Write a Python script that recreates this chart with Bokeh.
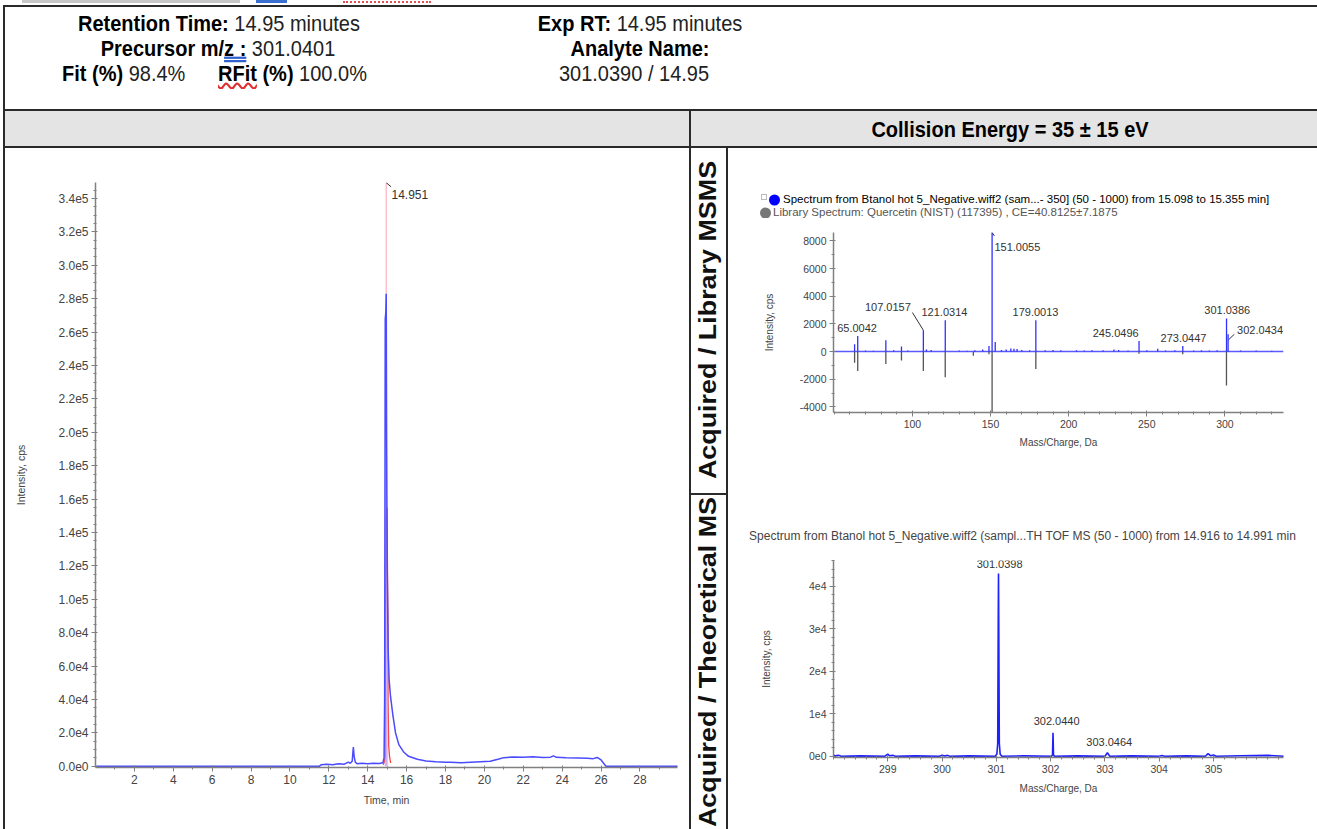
import numpy as np
from bokeh.plotting import figure
from bokeh.layouts import row, column
from bokeh.models import Div, Label, FixedTicker, Range1d
from bokeh.embed import file_html
from bokeh.resources import INLINE

FONT = "Liberation Sans"

# ---------------- data ----------------
# chromatogram (blue XIC)
chrom_time = [0.0, 11.5, 11.6, 11.9, 12.2, 12.5, 12.8, 13.0, 13.1, 13.2, 13.26, 13.3, 13.36, 13.45,
              13.7, 14.0, 14.3, 14.6, 14.78, 14.84, 14.87, 14.9, 14.93, 14.951, 14.97, 15.0, 15.05,
              15.1, 15.17, 15.3, 15.43, 15.6, 15.86, 16.1, 16.55, 17.0, 17.5, 18.0, 18.25, 18.8,
              19.3, 19.8, 20.3, 20.7, 21.0, 21.5, 22.0, 22.5, 23.0, 23.4, 23.55, 23.7, 24.2, 24.8,
              25.3, 25.6, 25.8, 26.0, 26.25, 30.0]
chrom_int = [0, 0, 900, 1200, 900, 1500, 1300, 2500, 1800, 3000, 11500, 6000, 2500, 1500,
             1800, 1500, 1900, 1700, 2200, 5000, 40000, 268000, 272000, 283000, 200000, 120000, 70000,
             52000, 42000, 30000, 20000, 13000, 8400, 6000, 4200, 3200, 2700, 2400, 2400, 2200,
             2500, 2800, 3000, 4200, 5200, 5600, 5400, 5700, 5300, 5500, 6300, 5400, 5200, 5000,
             4800, 4600, 5300, 3800, 0, 0]
# red overlay trace
red_time = [14.80, 14.86, 14.90, 14.91, 14.915, 14.95, 14.99, 15.0, 15.04, 15.045, 15.08, 15.12, 15.18]
red_int = [1000, 3000, 6000, 84000, 96000, 150000, 155000, 140000, 85000, 40000, 12000, 6000, 2000]
apex_time = 14.951
apex_label = "14.951"
chrom_xticks = [2, 4, 6, 8, 10, 12, 14, 16, 18, 20, 22, 24, 26, 28]
chrom_yticks = [i * 20000 for i in range(18)]
peak_window = [14.87, 15.05]

# MS/MS acquired (blue, up) and library (grey, down)
msms_mz = [63.0, 65.0042, 70, 75, 83.0, 88, 93.0, 97, 107.0157, 109, 112, 121.0314, 130, 135, 140, 145,
           149.0, 151.0055, 153.0, 157, 160, 163, 165, 167, 170, 175, 179.0013, 185, 190, 195, 205,
           210, 215, 222, 229, 232, 238, 245.0496, 250, 257, 262, 268, 273.0447, 280, 285, 290, 295,
           301.0386, 302.0434, 310, 320, 330]
msms_int = [530, 1130, 80, 60, 820, 100, 360, 80, 1540, 150, 120, 2265, 80, 60, 100, 150,
            410, 8600, 700, 120, 150, 220, 200, 180, 120, 100, 2265, 100, 120, 90, 100,
            80, 100, 90, 150, 120, 80, 770, 100, 200, 80, 100, 410, 80, 100, 80, 100,
            2385, 1250, 80, 70, 60]
lib_mz = [63.0, 65.0, 83.0, 93.0, 107.0, 121.0, 139.0, 149.0, 151.0, 179.0, 245.0, 273.0, 301.0]
lib_int = [-800, -1400, -900, -650, -1400, -1850, -300, -200, -4400, -1250, -150, -200, -2450]
msms_labels = ["65.0042", "107.0157", "121.0314", "151.0055", "179.0013", "245.0496", "273.0447",
               "301.0386", "302.0434"]
msms_xticks = [100, 150, 200, 250, 300]
msms_yticks = [-4000, -2000, 0, 2000, 4000, 6000, 8000]
msms_legend = ["Spectrum from Btanol hot 5_Negative.wiff2 (sam...- 350] (50 - 1000) from 15.098 to 15.355 min]",
               "Library Spectrum: Quercetin (NIST) (117395) , CE=40.8125±7.1875"]

# full-scan MS (profile)
ms_mz = [298.0, 298.03, 298.06, 298.1, 298.14, 298.5, 298.95, 299.0, 299.03, 299.1, 299.14, 299.5,
         299.95, 300.0, 300.05, 300.1, 300.14, 300.5, 300.98, 301.01, 301.025, 301.035, 301.0398,
         301.045, 301.055, 301.07, 301.1, 301.5, 302.02, 302.035, 302.044, 302.053, 302.07, 302.5,
         303.0, 303.046, 303.09, 303.5, 304.0, 304.05, 304.1, 304.5, 304.85, 304.9, 304.95, 305.0,
         305.05, 305.5, 306.0, 306.3]
ms_int = [300, 0, 150, 200, 0, 80, 0, 500, 100, 200, 0, 80,
          0, 250, 50, 200, 0, 80, 0, 500, 3000, 32000, 43000,
          30000, 3000, 500, 0, 80, 0, 400, 5500, 300, 0, 80,
          0, 800, 0, 80, 0, 150, 0, 80, 0, 600, 100, 300,
          0, 100, 200, 0]
ms_labels = ["301.0398", "302.0440", "303.0464"]
ms_xticks = [299, 300, 301, 302, 303, 304, 305]
ms_yticks = [0, 10000, 20000, 30000, 40000]
ms_ytick_labels = ["0e0", "1e4", "2e4", "3e4", "4e4"]
ms_title = "Spectrum from Btanol hot 5_Negative.wiff2 (sampl...TH TOF MS (50 - 1000) from 14.916 to 14.991 min"


def sci1(v):
    if v == 0:
        return "0.0e0"
    e = int(np.floor(np.log10(abs(v))))
    return f"{v / 10 ** e:.1f}e{e}"


def style_axes(p, fs, lab_fs):
    for ax in p.axis:
        ax.axis_line_color = "#808080"
        ax.axis_line_width = 1.5
        ax.major_tick_line_color = "#808080"
        ax.minor_tick_line_color = "#808080"
        ax.major_tick_out = 4
        ax.major_tick_in = 2
        ax.minor_tick_out = 2
        ax.minor_tick_in = 1
        ax.major_label_text_font = FONT
        ax.major_label_text_font_size = fs
        ax.major_label_text_color = "#444444"
        ax.axis_label_text_font = FONT
        ax.axis_label_text_font_size = lab_fs
        ax.axis_label_text_font_style = "normal"
        ax.axis_label_text_color = "#444444"
        ax.major_label_standoff = 3
    p.grid.visible = False
    p.outline_line_color = None
    p.background_fill_color = "white"
    p.border_fill_color = "white"


def add_label(p, x, y, text, size="11px", color="#333333", align="center", bold=False, baseline="middle"):
    p.add_layout(Label(x=x, y=y, text=text, text_align=align, text_baseline=baseline,
                       text_font=FONT, text_font_size=size, text_color=color,
                       text_font_style="bold" if bold else "normal"))


# ---------------- chromatogram ----------------
chrom = figure(width=684, height=681, x_range=Range1d(0, 29.93), y_range=Range1d(-700, 349600),
               output_backend="svg", toolbar_location=None,
               min_border_left=90, min_border_right=12, min_border_top=34, min_border_bottom=62,
               x_axis_label="Time, min", y_axis_label="Intensity, cps")
style_axes(chrom, "12px", "10.5px")
chrom.xaxis.ticker = FixedTicker(ticks=chrom_xticks, minor_ticks=list(range(1, 30)))
chrom.yaxis.ticker = FixedTicker(ticks=chrom_yticks, minor_ticks=list(range(0, 350001, 5000)))
chrom.yaxis.major_label_overrides = {v: sci1(v) for v in chrom_yticks}
chrom.yaxis.axis_label_standoff = 28
chrom.xaxis.axis_label_standoff = 7

ct = np.array(chrom_time)
ci = np.array(chrom_int)
m = (ct >= peak_window[0]) & (ct <= peak_window[1])
chrom.segment(x0=[apex_time], y0=[0], x1=[apex_time], y1=[349500], line_color="#ffc0cb", line_width=1.5)
chrom.line(red_time, red_int, line_color="#ff4040", line_width=1.3)
chrom.varea(x=ct[m], y1=0, y2=ci[m], fill_color="#a8a8ff", fill_alpha=0.55)
chrom.line(chrom_time, chrom_int, line_color="#4a4aff", line_width=1.5)
chrom.segment(x0=[apex_time], y0=[349500], x1=[apex_time + 0.25], y1=[347000], line_color="#333333", line_width=1)
add_label(chrom, apex_time + 0.27, 342500, apex_label, size="12px", align="left")

# ---------------- MS/MS spectrum ----------------
s1 = figure(width=589, height=275, x_range=Range1d(49.5, 337.5), y_range=Range1d(-4400, 8600),
            output_backend="svg", toolbar_location=None,
            min_border_left=105, min_border_right=34, min_border_top=14, min_border_bottom=81,
            x_axis_label="Mass/Charge, Da", y_axis_label="Intensity, cps")
style_axes(s1, "10.5px", "10px")
s1.xaxis.ticker = FixedTicker(ticks=msms_xticks, minor_ticks=list(range(50, 340, 10)))
s1.yaxis.ticker = FixedTicker(ticks=msms_yticks, minor_ticks=list(range(-4000, 8601, 1000)))
s1.yaxis.major_label_overrides = {v: str(v) for v in msms_yticks}
s1.yaxis.axis_label_standoff = 22
s1.xaxis.axis_label_standoff = 6
s1.line([49.5, 337.5], [0, 0], line_color="#5a5aff", line_width=1.5)
s1.segment(x0=lib_mz, y0=0, x1=lib_mz, y1=lib_int, line_color="#555555", line_width=1.3)
s1.segment(x0=msms_mz, y0=0, x1=msms_mz, y1=msms_int, line_color="#3030ff", line_width=1.3)
lab_x = [64.6, 84.3, 120.5, 152.5, 178.8, 230.1, 273.5, 301.5, 322.5]
lab_y = [1735, 3230, 2890, 7580, 2890, 1375, 1012, 3030, 1566]
lab_al = ["center", "center", "center", "left", "center", "center", "center", "center", "center"]
for t, x, y, al in zip(msms_labels, lab_x, lab_y, lab_al):
    add_label(s1, x, y, t, align=al)
s1.segment(x0=[100.0, 151.0055, 306.0], y0=[2820, 8600, 1250], x1=[107.0157, 152.5, 302.3],
           y1=[1540, 8350, 850], line_color="#333333", line_width=1)

# ---------------- MS spectrum ----------------
s2 = figure(width=589, height=284, x_range=Range1d(298.0, 306.29), y_range=Range1d(-300, 46050),
            output_backend="svg", toolbar_location=None,
            min_border_left=102, min_border_right=27, min_border_top=15, min_border_bottom=72,
            x_axis_label="Mass/Charge, Da", y_axis_label="Intensity, cps")
style_axes(s2, "10.5px", "10px")
s2.xaxis.ticker = FixedTicker(ticks=ms_xticks, minor_ticks=[round(298 + 0.2 * i, 1) for i in range(42)])
s2.yaxis.ticker = FixedTicker(ticks=ms_yticks, minor_ticks=list(range(0, 46001, 2000)))
s2.yaxis.major_label_overrides = dict(zip(ms_yticks, ms_ytick_labels))
s2.yaxis.axis_label_standoff = 34
s2.xaxis.axis_label_standoff = 7
s2.line(ms_mz, ms_int, line_color="#2020ff", line_width=1.6)
add_label(s2, 301.06, 45200, ms_labels[0])
add_label(s2, 302.11, 8240, ms_labels[1])
add_label(s2, 303.08, 3300, ms_labels[2])

# ---------------- table frame / header ----------------
LINE = "#2a2a2a"
GREY = "#e4e4e4"
FF = f"font-family:'{FONT}',Arial,sans-serif;"


def box(l, t, w, h, color):
    return (f'<div style="position:absolute;left:{l}px;top:{t}px;width:{w}px;height:{h}px;'
            f'background:{color};"></div>')


def txt(cx, cy, html, size=20, align="center", color="#222", sy=1.12):
    tr = "translate(-50%,-50%)" if align == "center" else "translate(0,-50%)"
    return (f'<div style="position:absolute;left:{cx}px;top:{cy}px;transform:{tr} scaleY({sy});white-space:nowrap;'
            f'{FF}font-size:{size}px;color:{color};">{html}</div>')


B = lambda s: f'<b style="color:#000">{s}</b>'
header_html = (
    '<div style="position:relative;width:1317px;height:148px;background:white;overflow:hidden;">'
    + box(22, 0, 218, 3, "#c8c8c8") + box(256, 0, 31, 3, "#3a6fd0")
    + '<div style="position:absolute;left:343px;top:1px;width:88px;height:0;border-top:2px dotted #e05050;"></div>'
    + box(3, 5, 1314, 2, LINE) + box(3, 5, 2, 143, LINE)
    + box(3, 109, 1314, 2, LINE) + box(5, 111, 1312, 35, GREY)
    + box(689, 109, 2, 39, LINE) + box(3, 146, 1314, 2, LINE)
    + txt(219, 23, B("Retention Time:") + " 14.95 minutes")
    + txt(218, 48, B("Precursor m/" + '<span style="text-decoration:underline double #3060d0;">z :</span>') + " 301.0401")
    + txt(62, 73, B("Fit (%)") + " 98.4%", align="left")
    + txt(218, 73, B('<span style="text-decoration:underline wavy #e03030;">RFit</span> (%)') + " 100.0%", align="left")
    + txt(640, 23, B("Exp RT:") + " 14.95 minutes")
    + txt(640, 48, B("Analyte Name:"))
    + txt(634, 73, "301.0390 / 14.95")
    + txt(1010, 129, B("Collision Energy = 35 ± 15 eV"))
    + '</div>'
)
header = Div(text=header_html, width=1317, height=148, margin=0)


def vtxt(cy, s):
    return (f'<div style="position:absolute;left:17px;top:{cy}px;transform:translate(-50%,-50%) rotate(-90deg) scaleX(1.12);'
            f'white-space:nowrap;{FF}font-weight:bold;font-size:24px;color:#111;">{s}</div>')


label_html = ('<div style="position:relative;width:35px;height:681px;background:white;overflow:hidden;">'
              + box(0, 345, 35, 2, LINE)
              + vtxt(172, "Acquired / Library MSMS") + vtxt(514, "Acquired / Theoretical MS")
              + '</div>')
label_col = Div(text=label_html, width=35, height=681, margin=0)


def vline(h):
    return Div(text=f'<div style="width:2px;height:{h}px;background:{LINE};"></div>', width=2, height=h, margin=0)


def small(l, t, html, size=10, color="#111"):
    return (f'<div style="position:absolute;left:{l}px;top:{t}px;transform:translate(0,-50%);line-height:1;'
            f'white-space:nowrap;{FF}font-size:{size}px;color:{color};">{html}</div>')


dot = lambda c: f'<span style="display:inline-block;width:11px;height:11px;border-radius:6px;background:{c};vertical-align:middle;"></span>'
legend_html = ('<div style="position:relative;width:589px;height:70px;background:white;overflow:hidden;">'
               + '<div style="position:absolute;left:33px;top:46px;width:6px;height:6px;border:1px solid #bbb;"></div>'
               + small(41, 52, dot("#0000ff")) + small(55, 52, msms_legend[0], size=11.5, color="#000")
               + small(32, 65, dot("#777777")) + small(45, 65, msms_legend[1], size=11.5, color="#555")
               + '</div>')
legend_div = Div(text=legend_html, width=589, height=70, margin=0)

title2_html = ('<div style="position:relative;width:589px;height:50px;background:white;overflow:hidden;">'
               + '<div style="position:absolute;left:0;top:42px;width:589px;transform:translateY(-50%);'
               + f'text-align:center;white-space:nowrap;{FF}font-size:12px;color:#444;">{ms_title}</div>'
               + '</div>')
title2_div = Div(text=title2_html, width=589, height=50, margin=0)

blank = Div(text='<div style="width:3px;height:681px;background:white;"></div>', width=3, height=681, margin=0)
hsep = Div(text=f'<div style="width:589px;height:2px;background:{LINE};"></div>', width=589, height=2, margin=0)

right = column(legend_div, s1, hsep, title2_div, s2, spacing=0)
lower = row(blank, vline(681), chrom, vline(681), label_col, vline(681), right, spacing=0)
page = column(header, lower, spacing=0)

open("out.html", "w").write(file_html(page, INLINE))
